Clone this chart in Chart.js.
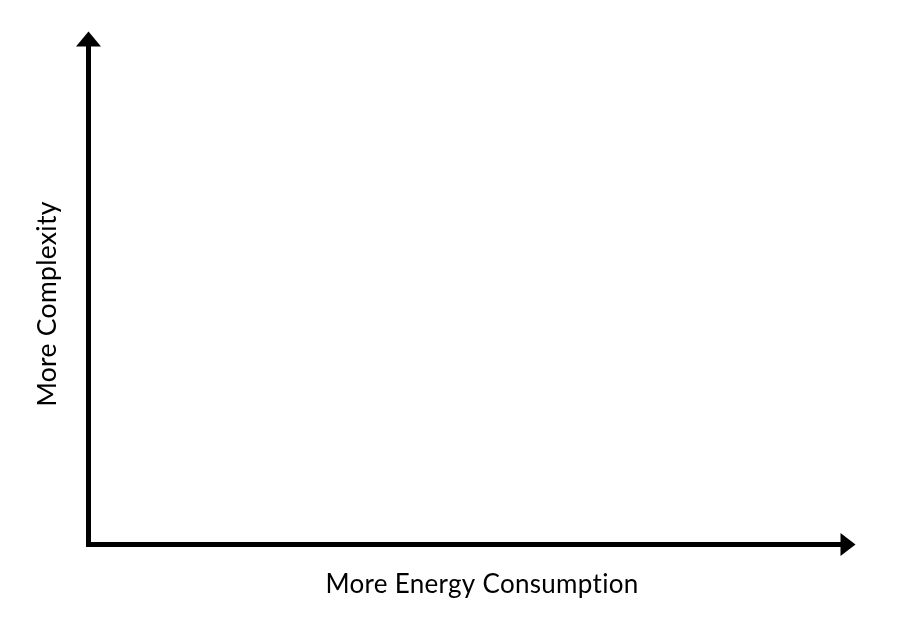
<!DOCTYPE html>
<html>
<head>
<meta charset="utf-8">
<script src="https://cdn.jsdelivr.net/npm/chart.js@4"></script>
<style>
html,body{margin:0;padding:0;background:#fff;}
#wrap{width:900px;height:627px;position:relative;}
</style>
</head>
<body>
<div id="wrap"><canvas id="c" width="900" height="627"></canvas></div>
<script>
// ---- data (conceptual axes only; no plotted series) ----
const xTitle = "More Energy Consumption";
const yTitle = "More Complexity";
const xRange = [0, 1];
const yRange = [0, 1];
const seriesPoints = [];

const FONT = "Lato, 'Open Sans', sans-serif";

const arrowPlugin = {
  id: 'arrows',
  afterDraw(chart) {
    const ctx = chart.ctx;
    const xs = chart.scales.x, ys = chart.scales.y;
    const x0 = xs.getPixelForValue(xRange[0]);
    const x1 = xs.getPixelForValue(xRange[1]);
    const y0 = ys.getPixelForValue(yRange[0]);
    const y1 = ys.getPixelForValue(yRange[1]);
    ctx.save();
    ctx.fillStyle = '#000';
    // up arrow
    ctx.beginPath();
    ctx.moveTo(x0, y1 - 14.5);
    ctx.lineTo(x0 - 12.5, y1 + 0.5);
    ctx.lineTo(x0 + 12.5, y1 + 0.5);
    ctx.closePath();
    ctx.fill();
    // right arrow
    ctx.beginPath();
    ctx.moveTo(x1 + 14.5, y0);
    ctx.lineTo(x1 - 0.5, y0 - 11.5);
    ctx.lineTo(x1 - 0.5, y0 + 11.5);
    ctx.closePath();
    ctx.fill();
    // axis titles
    ctx.font = "26px " + FONT;
    if ('letterSpacing' in ctx) ctx.letterSpacing = '0.3px';
    ctx.fillStyle = '#000';
    ctx.textAlign = 'center';
    ctx.textBaseline = 'alphabetic';
    ctx.fillText(xTitle, 482, 593);
    ctx.translate(56, 304);
    ctx.rotate(-Math.PI / 2);
    ctx.font = "26.5px " + FONT;
    ctx.fillText(yTitle, 0, 0);
    ctx.restore();
  }
};

new Chart(document.getElementById('c'), {
  type: 'scatter',
  data: { datasets: [{ data: seriesPoints, pointRadius: 0 }] },
  options: {
    responsive: false,
    animation: false,
    events: [],
    layout: { padding: { left: 88.5, top: 46, right: 59, bottom: 82.5 } },
    plugins: { legend: { display: false }, tooltip: { enabled: false } },
    scales: {
      x: {
        type: 'linear', min: xRange[0], max: xRange[1],
        ticks: { display: false },
        grid: { display: false, lineWidth: 5 },
        border: { display: true, color: '#000', width: 5 },
        afterFit(s) { s.height = 0; }
      },
      y: {
        type: 'linear', min: yRange[0], max: yRange[1],
        ticks: { display: false },
        grid: { display: false, lineWidth: 5 },
        border: { display: true, color: '#000', width: 5 },
        afterFit(s) { s.width = 0; }
      }
    }
  },
  plugins: [arrowPlugin]
});
</script>
</body>
</html>
